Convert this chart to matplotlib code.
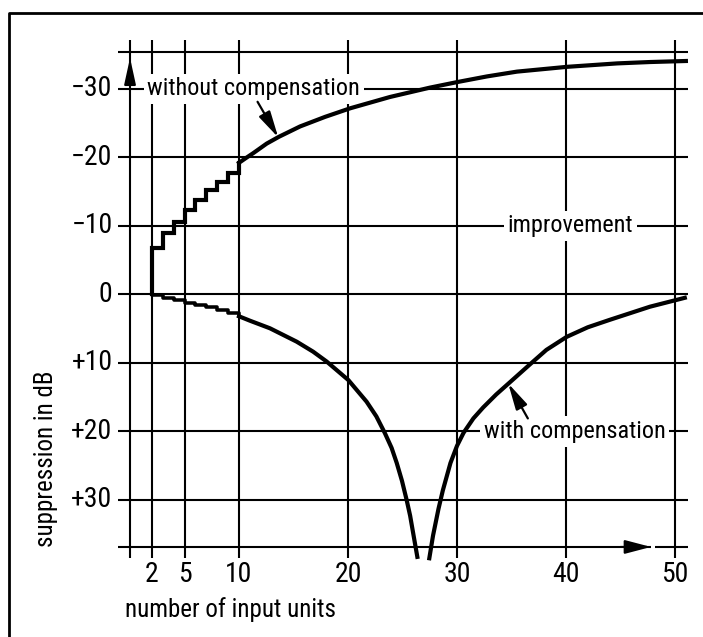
import matplotlib
matplotlib.use("Agg")
import matplotlib.pyplot as plt
from matplotlib import font_manager
from matplotlib.font_manager import FontProperties

# look for a narrow sans face; fall back to DejaVu Sans
def pick_font():
    entries = [f for f in font_manager.fontManager.ttflist
               if f.style == "normal" and f.weight in (400, "normal", "regular")]
    for want in ["Liberation Sans Narrow", "Arial Narrow", "Roboto Condensed",
                 "Open Sans Condensed", "Noto Sans Condensed"]:
        for f in entries:
            if f.name == want:
                return f.fname, True
    for f in entries:
        if f.stretch == "condensed" and "Mono" not in f.name and "Serif" not in f.name:
            return f.fname, True
    for f in entries:
        if ("Narrow" in f.name or "Condensed" in f.name) and "Mono" not in f.name:
            return f.fname, True
    return font_manager.findfont("DejaVu Sans"), False

font_file, narrow = pick_font()

# grid / ticks
x_grid = [0, 2, 5, 10, 20, 30, 40, 50]
x_ticks = [2, 5, 10, 20, 30, 40, 50]
x_labels = ["2", "5", "10", "20", "30", "40", "50"]
y_ticks = [-30, -20, -10, 0, 10, 20, 30]
y_labels = ["\u221230", "\u221220", "\u221210", "0", "+10", "+20", "+30"]

# without compensation: staircase 2..10, then smooth part
step_x = [2, 2, 3, 4, 5, 6, 7, 8, 9, 10]
without_steps = [0, -6.8, -9.0, -10.6, -12.3, -13.8, -15.2, -16.4, -17.7, -19.1]
without_x = [10, 10.64, 11.3, 12.54, 13.67, 15.6, 17.9, 20.2, 23.85, 27.5, 30.1, 32.75,
             35.5, 40.1, 44.7, 47.7, 51.0]
without_y = [-19.2, -19.9, -20.6, -22.0, -23.0, -24.5, -25.9, -27.15, -28.8, -30.16, -31.0,
             -31.8, -32.5, -33.2, -33.7, -33.9, -34.05]

# with compensation: small staircase, then two branches around the null
with_steps = [0, 0.1, 0.5, 0.8, 1.2, 1.6, 1.9, 2.3, 2.7, 3.1]
with_left_x = [10, 11.0, 12.84, 15.29, 16.8, 18.04, 20.03, 21.7, 22.6, 23.39, 24.0, 24.47,
               24.95, 25.38, 25.7, 25.93, 26.36]
with_left_y = [3.2, 3.84, 4.95, 6.9, 8.36, 9.8, 12.5, 15.65, 17.8, 20.27, 22.4, 24.6,
               27.2, 30.0, 32.3, 34.4, 38.3]
with_right_x = [27.46, 27.8, 28.3, 28.7, 29.4, 30.0, 30.6, 31.5, 32.4, 33.6, 34.8, 36.7,
                38.2, 40.06, 42.0, 44.04, 47.7, 50.9]
with_right_y = [38.5, 35.2, 31.3, 28.6, 24.6, 22.1, 20.2, 18.1, 16.5, 14.6, 12.9, 10.2,
                8.1, 6.2, 4.8, 3.7, 1.8, 0.5]

fig = plt.figure(figsize=(7.03, 6.37), dpi=100)
ax = fig.add_axes([0, 0, 1, 1])
ax.set_xlim(-11.93, 52.57)
ax.set_ylim(49.99, -42.95)
ax.axis("off")

grid_lw = 1.5
curve_lw = 3.0
k = 1.0 if narrow else 0.82
fp_tick = FontProperties(fname=font_file, size=20 * k)
fp_note = FontProperties(fname=font_file, size=17.5 * k)
fp_lab = FontProperties(fname=font_file, size=18 * k)

# frame (only top and left edges visible)
ax.plot([0.0135, 0.0135, 1.01], [-0.01, 0.9796, 0.9796], transform=ax.transAxes,
        color="black", lw=2, clip_on=False)

# grid
ax.vlines(x_grid, -37.1, 38.5, color="black", lw=grid_lw, zorder=1)
ax.hlines(y_ticks + [-35.3], -1.1, 51.2, color="black", lw=grid_lw, zorder=1)
ax.hlines(36.85, -1.1, 47.8, color="black", lw=grid_lw, zorder=1)
ax.hlines(36.85, 48.15, 51.2, color="black", lw=grid_lw, zorder=1)

arrow_kw = dict(color="black", lw=grid_lw, shrinkA=0, shrinkB=0, mutation_scale=10)
ax.annotate("", xy=(0, -34.5), xytext=(0, -31.0),
            arrowprops=dict(arrowstyle="-|>,head_length=1.6,head_width=0.35", **arrow_kw))
ax.annotate("", xy=(47.8, 36.85), xytext=(45.0, 36.85),
            arrowprops=dict(arrowstyle="-|>,head_length=1.6,head_width=0.42", **arrow_kw))

# tick labels
for v, lab in zip(y_ticks, y_labels):
    ax.text(-1.6, v, lab, ha="right", va="center", fontproperties=fp_tick)
for v, lab in zip(x_ticks, x_labels):
    ax.text(v, 40.9, lab, ha="center", va="center", fontproperties=fp_tick)

ax.text(-0.45, 46.0, "number of input units", ha="left", va="center", fontproperties=fp_lab)
ax.text(-7.7, 24.0, "suppression in dB", ha="center", va="center", rotation=90,
        fontproperties=fp_lab)

# curves
ax.plot(step_x, without_steps, drawstyle="steps-post", color="black", lw=curve_lw,
        solid_joinstyle="miter", zorder=4)
ax.plot(without_x, without_y, color="black", lw=curve_lw, solid_joinstyle="round", zorder=4)
ax.plot(step_x, with_steps, drawstyle="steps-post", color="black", lw=curve_lw * 0.85,
        zorder=4)
ax.plot(with_left_x, with_left_y, color="black", lw=curve_lw, solid_joinstyle="round", zorder=4)
ax.plot(with_right_x, with_right_y, color="black", lw=curve_lw, solid_joinstyle="round", zorder=4)

# annotations with white boxes over the grid
box = dict(boxstyle="square,pad=0.15", fc="white", ec="none")
ax.text(1.6, -30, "without compensation", ha="left", va="center", fontproperties=fp_note,
        bbox=box, zorder=3)
ax.text(40.4, -10, "improvement", ha="center", va="center", fontproperties=fp_note,
        bbox=box, zorder=3)
ax.text(40.8, 20, "with compensation", ha="center", va="center", fontproperties=fp_note,
        bbox=box, zorder=3)

pointer_kw = dict(color="black", lw=1.6, shrinkA=0, shrinkB=0, mutation_scale=10)
ax.annotate("", xy=(13.6, -22.9), xytext=(11.7, -28.1),
            arrowprops=dict(arrowstyle="-|>,head_length=1.6,head_width=0.38", **pointer_kw))
ax.annotate("", xy=(34.7, 13.0), xytext=(36.5, 18.1),
            arrowprops=dict(arrowstyle="-|>,head_length=1.6,head_width=0.38", **pointer_kw))

fig.savefig("out.png", dpi=100, facecolor="white")
